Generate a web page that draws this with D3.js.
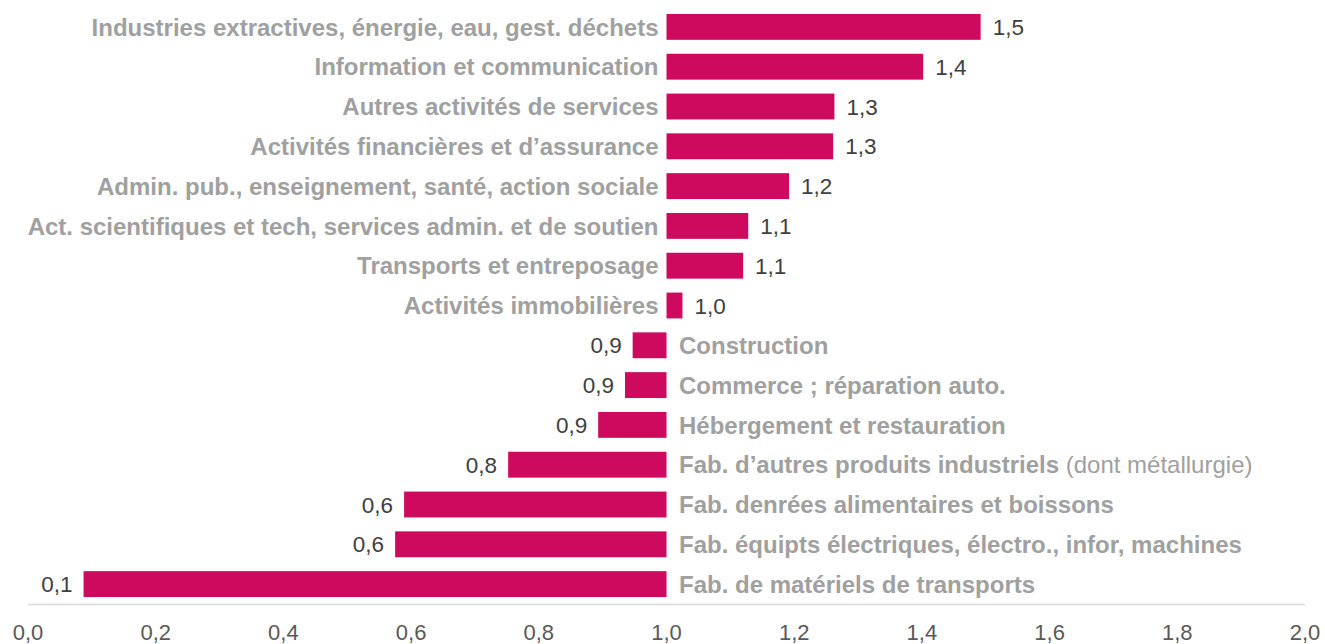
<!DOCTYPE html>
<html>
<head>
<meta charset="utf-8">
<script src="https://cdn.jsdelivr.net/npm/d3@7"></script>
<style>
  body { margin: 0; background: #fff; }
  svg text { font-family: Arial, "Liberation Sans", Helvetica, sans-serif; }
</style>
</head>
<body>
<div id="chart"></div>
<script>
// Indice par secteur (base 1,0)
const categories = [
  "Industries extractives, énergie, eau, gest. déchets",
  "Information et communication",
  "Autres activités de services",
  "Activités financières et d’assurance",
  "Admin. pub., enseignement, santé, action sociale",
  "Act. scientifiques et tech, services admin. et de soutien",
  "Transports et entreposage",
  "Activités immobilières",
  "Construction",
  "Commerce ; réparation auto.",
  "Hébergement et restauration",
  "Fab. d’autres produits industriels",
  "Fab. denrées alimentaires et boissons",
  "Fab. équipts électriques, électro., infor, machines",
  "Fab. de matériels de transports"
]
const suffixes = ["", "", "", "", "", "", "", "", "", "", "", " (dont métallurgie)", "", "", ""]
const values = [1.492, 1.402, 1.263, 1.261, 1.192, 1.128, 1.120, 1.025,
                0.947, 0.935, 0.893, 0.752, 0.589, 0.575, 0.087]
const ticks = [0, 0.2, 0.4, 0.6, 0.8, 1.0, 1.2, 1.4, 1.6, 1.8, 2.0]
const base = 1.0

const width = 1325, height = 644

const svg = d3.select("#chart").append("svg")
  .attr("width", width)
  .attr("height", height)

const x = d3.scaleLinear().domain([0, 2]).range([28, 1305])
const y = d3.scaleBand().domain(categories).range([7, 604]).paddingInner(0.35).paddingOuter(0.175)

const fmt = v => d3.format(".1f")(v).replace(".", ",")

const data = categories.map((c, i) => ({ cat: c, suffix: suffixes[i], v: values[i] }))

// Barres
svg.append("g")
  .selectAll("rect")
  .data(data)
  .join("rect")
    .attr("x", d => x(Math.min(d.v, base)))
    .attr("y", d => y(d.cat))
    .attr("width", d => Math.abs(x(d.v) - x(base)))
    .attr("height", y.bandwidth())
    .attr("fill", "#cd0a5e")

// Libellés des secteurs
const lab = svg.append("g")
  .selectAll("text")
  .data(data)
  .join("text")
    .attr("x", d => d.v >= base ? x(base) - 8 : x(base) + 12.5)
    .attr("y", d => y(d.cat) + y.bandwidth() / 2)
    .attr("dy", "0.36em")
    .attr("text-anchor", d => d.v >= base ? "end" : "start")
    .style("font-size", "24px")
    .style("fill", "#a0a0a0")
lab.append("tspan")
  .style("font-weight", "bold")
  .text(d => d.cat)
lab.append("tspan")
  .text(d => d.suffix)

// Valeurs
svg.append("g")
  .selectAll("text")
  .data(data)
  .join("text")
    .attr("x", d => d.v >= base ? x(d.v) + 12 : x(d.v) - 11)
    .attr("y", d => y(d.cat) + y.bandwidth() / 2)
    .attr("dy", "0.36em")
    .attr("text-anchor", d => d.v >= base ? "start" : "end")
    .style("font-size", "22.5px")
    .style("fill", "#404040")
    .text(d => fmt(d.v))

// Axe horizontal
svg.append("line")
  .attr("x1", x(0)).attr("x2", x(2))
  .attr("y1", 604.5).attr("y2", 604.5)
  .attr("stroke", "#d9d9d9")
  .attr("stroke-width", 1.5)

svg.append("g")
  .selectAll("text")
  .data(ticks)
  .join("text")
    .attr("x", d => x(d))
    .attr("y", 640)
    .attr("text-anchor", "middle")
    .style("font-size", "22px")
    .style("fill", "#595959")
    .text(d => fmt(d))
</script>
</body>
</html>
